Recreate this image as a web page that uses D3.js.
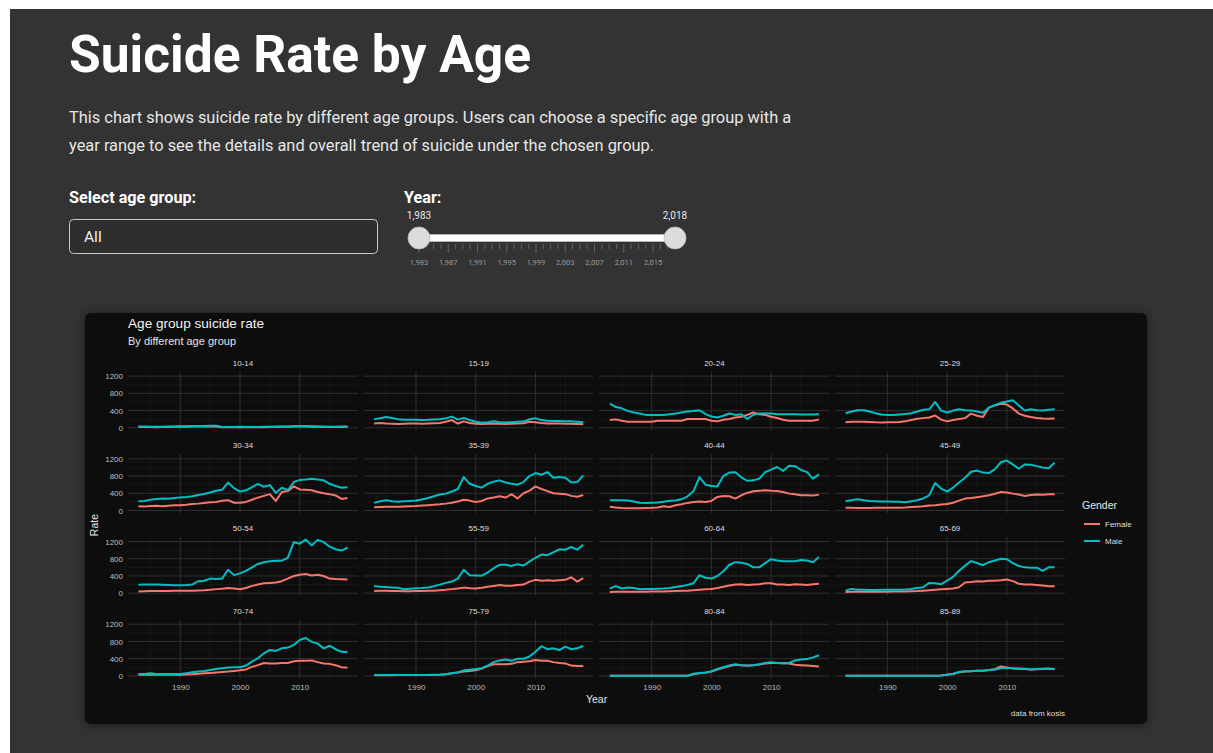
<!DOCTYPE html>
<html><head><meta charset="utf-8">
<script src="https://cdn.jsdelivr.net/npm/d3@7/dist/d3.min.js"></script>
<style>
html,body{margin:0;padding:0;background:#fff;overflow:hidden;}
svg{display:block;}
</style></head><body>
<svg id="page" width="1213" height="753"></svg>
<script>
// ---------------- data ----------------
const years = [1983,1984,1985,1986,1987,1988,1989,1990,1991,1992,1993,1994,1995,1996,1997,1998,1999,2000,
               2001,2002,2003,2004,2005,2006,2007,2008,2009,2010,2011,2012,2013,2014,2015,2016,2017,2018];
const ageGroups = ["10-14","15-19","20-24","25-29","30-34","35-39","40-44","45-49",
                   "50-54","55-59","60-64","65-69","70-74","75-79","80-84","85-89"];
const genders = ["Female","Male"];
const yTicks = [0,400,800,1200];
const xTicks = [1990,2000,2010];
const sliderLabelYears = [1983,1987,1991,1995,1999,2003,2007,2011,2015];

const m_10_14 = [30,28,25,22,25,28,30,35,38,40,42,45,50,48,20,18,20,22,20,18,20,22,25,28,30,32,38,42,40,35,30,28,25,25,28,30];
const f_10_14 = [20,18,18,15,18,20,22,25,25,28,30,30,32,30,15,14,15,15,14,14,15,16,18,20,22,24,28,30,28,25,22,20,18,18,20,22];
const m_15_19 = [200,220,250,230,200,190,185,190,180,185,195,200,220,260,190,230,180,140,120,130,150,130,125,130,140,145,200,220,180,165,160,160,155,150,140,130];
const f_15_19 = [100,110,100,95,90,95,100,100,95,100,105,110,140,180,100,150,110,95,90,95,100,95,90,95,100,105,140,130,110,100,100,100,95,95,90,80];
const m_20_24 = [559,483,453,393,355,332,300,300,300,300,317,332,355,378,393,408,317,264,240,280,332,300,317,204,300,332,332,332,317,317,317,317,310,310,310,317];
const f_20_24 = [181,196,166,143,143,143,143,143,166,166,166,166,166,204,204,204,204,166,150,189,204,240,257,300,355,317,300,257,226,189,166,166,166,166,166,196];
const m_25_29 = [340,378,408,408,378,340,310,300,300,310,320,340,378,420,430,600,400,355,400,430,410,400,380,350,470,530,580,610,640,520,400,430,410,400,420,430];
const f_25_29 = [128,140,143,140,135,128,125,128,130,135,150,180,210,225,240,285,190,150,180,205,225,330,280,250,470,520,560,540,450,330,280,250,230,215,210,215];
const m_30_34 = [215,220,250,270,280,275,290,305,315,330,360,385,420,460,480,650,520,440,470,540,620,550,590,410,530,470,660,710,720,735,720,700,620,570,530,540];
const f_30_34 = [100,95,105,110,100,110,120,125,135,150,160,175,190,200,225,240,180,180,200,250,300,340,380,220,430,450,560,490,480,470,430,400,380,350,270,290];
const m_35_39 = [177,215,238,215,205,215,223,230,254,290,331,370,392,440,500,777,620,570,531,620,670,700,650,623,600,661,800,869,831,892,760,777,760,650,660,815];
const f_35_39 = [75,80,85,85,90,95,100,105,115,125,135,145,160,180,210,250,230,200,220,280,300,330,300,380,280,400,460,560,500,450,400,390,380,340,320,360];
const m_40_44 = [238,238,238,235,210,180,175,180,185,205,225,235,260,330,450,777,600,570,560,800,880,890,770,690,700,740,890,950,1010,920,1040,1030,940,890,740,840];
const f_40_44 = [85,70,60,55,55,55,60,62,70,100,80,123,146,177,200,208,200,223,315,338,330,277,354,408,446,461,469,460,455,430,392,377,354,354,346,369];
const m_45_49 = [215,238,260,238,220,215,210,210,205,205,190,215,240,280,350,640,510,440,530,650,760,900,930,880,870,960,1120,1160,1070,970,1070,1060,1030,1000,980,1110];
const f_45_49 = [62,62,60,60,60,62,62,62,62,65,70,80,90,100,115,125,140,150,180,230,277,290,310,330,354,390,431,420,392,370,338,360,370,365,380,380];
const m_50_54 = [196,204,204,204,196,190,185,185,190,200,280,290,340,330,340,544,420,460,520,600,680,717,740,755,755,820,1185,1150,1245,1110,1238,1185,1080,1020,990,1057];
const f_50_54 = [40,45,50,50,50,50,55,55,55,60,65,70,80,95,105,120,110,90,120,170,200,230,240,250,280,340,400,430,445,410,430,400,340,330,325,320];
const m_55_59 = [166,150,143,135,128,91,105,113,120,135,160,200,240,270,340,544,415,410,408,480,580,660,660,634,672,642,732,823,898,883,950,1019,1010,1072,1012,1125];
const f_55_59 = [53,55,55,50,50,48,48,50,50,55,60,70,80,95,110,130,115,110,125,150,170,190,175,175,190,200,270,310,290,300,290,300,310,370,270,350];
const m_60_64 = [110,165,110,135,120,90,100,100,105,110,120,145,165,190,230,420,360,340,400,510,660,720,710,680,600,600,700,790,760,740,740,740,770,760,720,840];
const f_60_64 = [30,35,35,35,35,35,35,38,40,42,45,50,55,60,70,80,90,100,120,150,180,200,210,190,200,210,230,230,200,200,190,210,200,190,210,220];
const m_65_69 = [60,100,80,80,75,75,80,80,80,80,85,100,120,140,240,230,210,290,380,520,640,745,700,650,720,760,800,790,700,630,600,593,593,520,600,600];
const f_65_69 = [30,35,35,35,35,35,35,35,38,40,40,45,50,60,70,80,90,100,110,140,250,260,280,270,290,290,300,320,280,220,200,200,190,180,160,160];
const m_70_74 = [46,46,62,46,46,46,46,46,62,85,100,116,139,162,178,193,200,200,240,333,410,526,604,580,642,658,720,836,880,790,750,640,700,620,560,550];
const f_70_74 = [30,30,30,30,30,30,30,30,35,40,50,60,70,80,90,100,115,130,150,210,250,300,290,290,300,300,340,350,350,360,320,290,280,250,200,190];
const m_75_79 = [20,20,20,20,20,20,20,20,22,22,25,30,40,60,80,130,145,160,180,240,320,360,380,350,400,400,450,560,690,620,640,600,680,620,640,700];
const f_75_79 = [15,18,18,18,20,20,20,20,20,20,22,28,40,60,80,100,115,130,170,230,270,270,270,280,320,330,340,370,350,350,320,300,290,240,230,230];
const m_80_84 = [5,5,5,5,5,5,5,5,5,5,5,5,5,5,50,70,80,110,160,200,240,270,250,240,250,270,300,320,300,290,300,360,380,390,430,480];
const f_80_84 = [4,4,4,4,4,4,4,4,4,4,4,4,4,4,40,60,75,100,150,190,230,260,245,235,245,265,290,300,300,300,290,260,250,240,230,220];
const m_85_89 = [3,3,3,3,3,3,3,3,3,3,3,3,3,3,3,3,10,30,50,90,110,110,120,120,140,150,180,190,180,170,165,150,160,165,170,160];
const f_85_89 = [3,3,3,3,3,3,3,3,3,3,3,3,3,3,3,3,8,25,45,85,105,108,118,122,140,155,220,195,175,168,160,150,155,160,165,155];

const maleByGroup = [m_10_14,m_15_19,m_20_24,m_25_29,m_30_34,m_35_39,m_40_44,m_45_49,
                     m_50_54,m_55_59,m_60_64,m_65_69,m_70_74,m_75_79,m_80_84,m_85_89];
const femaleByGroup = [f_10_14,f_15_19,f_20_24,f_25_29,f_30_34,f_35_39,f_40_44,f_45_49,
                       f_50_54,f_55_59,f_60_64,f_65_69,f_70_74,f_75_79,f_80_84,f_85_89];

// ---------------- page ----------------
const W = 1213, H = 753;
const svg = d3.select("#page");
const defs = svg.append("defs");
const sh = defs.append("filter").attr("id","shadow").attr("x","-10%").attr("y","-10%").attr("width","120%").attr("height","120%");
sh.append("feDropShadow").attr("dx",0).attr("dy",1).attr("stdDeviation",5).attr("flood-color","#000").attr("flood-opacity",0.55);

svg.append("rect").attr("x",10).attr("y",9).attr("width",W-10).attr("height",H-9).attr("fill","#333333");

const ui = "Roboto, 'Noto Sans', sans-serif";
svg.append("text").attr("x",69).attr("y",72).attr("font-family",ui).attr("font-weight",700)
   .attr("font-size",51.5).attr("fill","#ffffff").text("Suicide Rate by Age");
const para = ["This chart shows suicide rate by different age groups. Users can choose a specific age group with a",
              "year range to see the details and overall trend of suicide under the chosen group."];
svg.selectAll("text.para").data(para).join("text").attr("class","para")
   .attr("x",69).attr("y",(d,i)=>123+i*28).attr("font-family",ui).attr("font-size",16.4)
   .attr("fill","#e6e6e6").text(d=>d);

svg.append("text").attr("x",69).attr("y",203).attr("font-family",ui).attr("font-weight",700)
   .attr("font-size",16.2).attr("fill","#ffffff").text("Select age group:");
svg.append("rect").attr("x",69.5).attr("y",219.5).attr("width",308).attr("height",34).attr("rx",4)
   .attr("fill","#2e2e2e").attr("stroke","#c8c8c8").attr("stroke-width",1);
svg.append("text").attr("x",84).attr("y",242).attr("font-family",ui).attr("font-size",15.5)
   .attr("fill","#f0f0f0").text("All");

svg.append("text").attr("x",404).attr("y",203).attr("font-family",ui).attr("font-weight",700)
   .attr("font-size",16.2).attr("fill","#ffffff").text("Year:");

// slider
const sx = d3.scaleLinear().domain([years[0], years[years.length-1]]).range([419, 675]);
const fmt = d3.format(",");
const sl = svg.append("g");
sl.selectAll("line.tk").data(years).join("line").attr("class","tk")
  .attr("x1",d=>sx(d)).attr("x2",d=>sx(d)).attr("y1",244)
  .attr("y2",d=>sliderLabelYears.includes(d)?253:249)
  .attr("stroke","#777").attr("stroke-width",0.7);
sl.selectAll("text.tl").data(sliderLabelYears).join("text").attr("class","tl")
  .attr("x",d=>sx(d)).attr("y",265).attr("text-anchor","middle").attr("font-family",ui)
  .attr("font-size",7.5).attr("fill","#9a9a9a").text(d=>fmt(d));
sl.append("rect").attr("x",sx(years[0])).attr("y",234.5).attr("width",sx(years[years.length-1])-sx(years[0]))
  .attr("height",7).attr("fill","#ffffff").attr("stroke","#d0d0d0").attr("stroke-width",0.5);
[years[0], years[years.length-1]].forEach(y=>{
  sl.append("circle").attr("cx",sx(y)).attr("cy",238).attr("r",11).attr("fill","#dcdcdc")
    .attr("stroke","#bcbcbc").attr("stroke-width",0.8);
  sl.append("text").attr("x",sx(y)).attr("y",219).attr("text-anchor","middle").attr("font-family",ui)
    .attr("font-size",10).attr("fill","#e6e6e6").text(fmt(y));
});

// ---------------- chart ----------------
const cf = "'Liberation Sans', Arial, Helvetica, sans-serif";
svg.append("rect").attr("x",85).attr("y",313).attr("width",1062).attr("height",411).attr("rx",6)
   .attr("fill","#0b0b0b").attr("filter","url(#shadow)");

svg.append("text").attr("x",128).attr("y",328).attr("font-family",cf).attr("font-size",13.6)
   .attr("fill","#f2f2f2").text("Age group suicide rate");
svg.append("text").attr("x",128).attr("y",345).attr("font-family",cf).attr("font-size",11)
   .attr("fill","#e6e6e6").text("By different age group");

const colors = d3.scaleOrdinal().domain(genders).range(["#F8766D","#00BFC4"]);

const left = 128, panelW = 230, gapX = 5.7;
const top0 = 371.5, panelH = 59, rowStep = 82.7;
const allVals = maleByGroup.flat().concat(femaleByGroup.flat());
const vmax = d3.max(allVals), vmin = 0;
const padY = (vmax - vmin) * 0.05;
const padX = (years[years.length-1] - years[0]) * 0.05;

ageGroups.forEach((grp, gi) => {
  const c = gi % 4, r = Math.floor(gi / 4);
  const x0 = left + c * (panelW + gapX);
  const y0 = top0 + r * rowStep;
  const x = d3.scaleLinear().domain([years[0]-padX, years[years.length-1]+padX]).range([x0, x0+panelW]);
  const y = d3.scaleLinear().domain([vmin-padY, vmax+padY]).range([y0+panelH, y0]);
  const g = svg.append("g");

  // minor grid
  const yMinor = [200,600,1000];
  const xMinor = [1985,1995,2005,2015];
  g.selectAll("line.ymn").data(yMinor).join("line").attr("x1",x0).attr("x2",x0+panelW)
    .attr("y1",d=>y(d)).attr("y2",d=>y(d)).attr("stroke","#1f1f1f").attr("stroke-width",0.6);
  g.selectAll("line.xmn").data(xMinor).join("line").attr("y1",y0).attr("y2",y0+panelH)
    .attr("x1",d=>x(d)).attr("x2",d=>x(d)).attr("stroke","#1f1f1f").attr("stroke-width",0.6);
  // major grid
  g.selectAll("line.ymj").data(yTicks).join("line").attr("x1",x0).attr("x2",x0+panelW)
    .attr("y1",d=>y(d)).attr("y2",d=>y(d)).attr("stroke","#2f2f2f").attr("stroke-width",1);
  g.selectAll("line.xmj").data(xTicks).join("line").attr("y1",y0).attr("y2",y0+panelH)
    .attr("x1",d=>x(d)).attr("x2",d=>x(d)).attr("stroke","#2f2f2f").attr("stroke-width",1);

  // strip
  g.append("text").attr("x",x0+panelW/2).attr("y",y0-6).attr("text-anchor","middle")
    .attr("font-family",cf).attr("font-size",8).attr("fill","#dddddd").text(grp);

  // lines
  const series = [{k:"Female", v:femaleByGroup[gi]}, {k:"Male", v:maleByGroup[gi]}];
  const line = d3.line().x((d,i)=>x(years[i])).y(d=>y(d));
  g.selectAll("path.s").data(series).join("path").attr("class","s")
    .attr("d",d=>line(d.v)).attr("fill","none").attr("stroke",d=>colors(d.k))
    .attr("stroke-width",2).attr("stroke-linejoin","round");

  // axes
  if (c === 0) {
    const ax = g.append("g").attr("transform",`translate(${x0},0)`)
      .call(d3.axisLeft(y).tickValues(yTicks).tickFormat(d3.format("d")).tickSize(0).tickPadding(5));
    ax.select(".domain").remove();
    ax.selectAll("text").attr("font-family",cf).attr("font-size",8).attr("fill","#bdbdbd");
  }
  if (r === 3) {
    const ax = g.append("g").attr("transform",`translate(0,${y0+panelH})`)
      .call(d3.axisBottom(x).tickValues(xTicks).tickFormat(d3.format("d")).tickSize(0).tickPadding(6));
    ax.select(".domain").remove();
    ax.selectAll("text").attr("font-family",cf).attr("font-size",8).attr("fill","#bdbdbd");
  }
});

// axis titles
const facetsRight = left + 4*panelW + 3*gapX;
svg.append("text").attr("x",(left+facetsRight)/2).attr("y",703).attr("text-anchor","middle")
   .attr("font-family",cf).attr("font-size",10.5).attr("fill","#e6e6e6").text("Year");
svg.append("text").attr("transform",`translate(98,${top0 + (3*rowStep+panelH)/2}) rotate(-90)`)
   .attr("text-anchor","middle").attr("font-family",cf).attr("font-size",10.5).attr("fill","#e6e6e6").text("Rate");

// legend
const lg = svg.append("g");
lg.append("text").attr("x",1082).attr("y",509).attr("font-family",cf).attr("font-size",10.5)
  .attr("fill","#e6e6e6").text("Gender");
genders.forEach((k,i)=>{
  const yy = 524 + i*17;
  lg.append("line").attr("x1",1084).attr("x2",1100).attr("y1",yy).attr("y2",yy)
    .attr("stroke",colors(k)).attr("stroke-width",2);
  lg.append("text").attr("x",1105).attr("y",yy+3).attr("font-family",cf).attr("font-size",8)
    .attr("fill","#dddddd").text(k);
});

// caption
svg.append("text").attr("x",facetsRight).attr("y",716).attr("text-anchor","end")
   .attr("font-family",cf).attr("font-size",8).attr("fill","#dddddd").text("data from kosis");
</script>
</body></html>
